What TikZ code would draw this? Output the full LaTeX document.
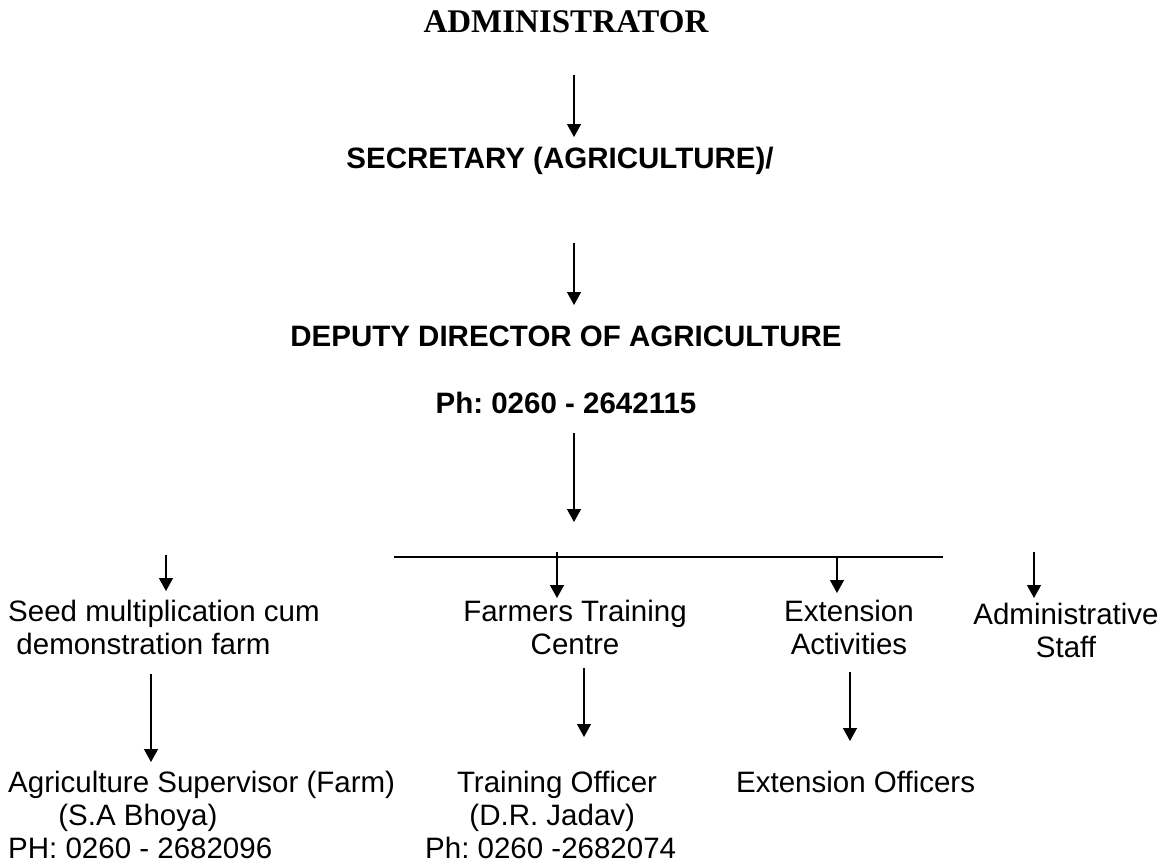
\documentclass[tikz,border=0pt]{standalone}
\usepackage{fontspec}
\setmainfont{Liberation Sans}
\newfontfamily\timesfont{Liberation Serif}
\usetikzlibrary{arrows.meta}
\frenchspacing
\begin{document}
\begin{tikzpicture}[x=1pt,y=-1pt,
  arr/.style={-{Triangle[length=13pt,width=14pt]}, line width=1.3pt},
  bar/.style={line width=2.8pt},
  body/.style={inner sep=0pt, font=\fontsize{29.5}{33}\selectfont\frenchspacing},
  head/.style={inner sep=0pt, font=\fontsize{29.5}{34}\selectfont\bfseries\frenchspacing},
  toptitle/.style={inner sep=0pt, font=\fontsize{33}{36}\selectfont\timesfont\bfseries},
]
\useasboundingbox[fill=white] (0,0) rectangle (1171,865);

% titles
\node[toptitle, anchor=base] (admin) at (566,32) {ADMINISTRATOR};
\node[head, anchor=base] (sec) at (560,168) {SECRETARY (AGRICULTURE)/};
\node[head, anchor=base] (dep) at (566,346) {DEPUTY DIRECTOR OF AGRICULTURE};
\node[head, anchor=base] (ph) at (566,413) {Ph: 0260 - 2642115};

% level-2 nodes
\node[body, anchor=north west, align=left] (seed) at (8,600)
  {Seed multiplication cum\\\hspace*{0.28em}demonstration farm};
\node[body, anchor=north, align=center] (ftc) at (575,600)
  {Farmers Training\\Centre};
\node[body, anchor=north, align=center] (ext) at (849,600)
  {Extension\\Activities};
\node[body, anchor=north, align=center] (adm) at (1066,603)
  {Administrative\\Staff};

% level-3 nodes
\node[body, anchor=north west, align=left] (sup) at (8,771)
  {Agriculture Supervisor (Farm)\\\hspace*{1.7em}(S.A Bhoya)\\PH: 0260 - 2682096};
\node[body, anchor=north west, align=left] (to) at (425,771)
  {\hspace*{1.08em}Training Officer\\\hspace*{1.5em}(D.R. Jadav)\\Ph: 0260 -2682074};
\node[body, anchor=north west, align=left] (eo) at (736,771)
  {Extension Officers};

% arrow end points
\coordinate (a1s) at (574,75);   \coordinate (a1e) at (574,137);
\coordinate (a2s) at (574,243);  \coordinate (a2e) at (574,305);
\coordinate (a3s) at (574,433);  \coordinate (a3e) at (574,522);
\coordinate (hl) at (394,557);   \coordinate (hr) at (943,557);
\coordinate (b1s) at (166,555);  \coordinate (b1e) at (166,591);
\coordinate (b2s) at (557,552);  \coordinate (b2e) at (557,598);
\coordinate (b3s) at (837,557);  \coordinate (b3e) at (837,593);
\coordinate (b4s) at (1034,552); \coordinate (b4e) at (1034,598);
\coordinate (c1s) at (151,674);  \coordinate (c1e) at (151,762);
\coordinate (c2s) at (584,668);  \coordinate (c2e) at (584,737);
\coordinate (c3s) at (850,672);  \coordinate (c3e) at (850,741);

\draw[arr] (a1s) -- (a1e);
\draw[arr] (a2s) -- (a2e);
\draw[arr] (a3s) -- (a3e);
\draw[bar] (hl) -- (hr);
\draw[arr] (b1s) -- (b1e);
\draw[arr] (b2s) -- (b2e);
\draw[arr] (b3s) -- (b3e);
\draw[arr] (b4s) -- (b4e);
\draw[arr] (c1s) -- (c1e);
\draw[arr] (c2s) -- (c2e);
\draw[arr] (c3s) -- (c3e);
\end{tikzpicture}
\end{document}
